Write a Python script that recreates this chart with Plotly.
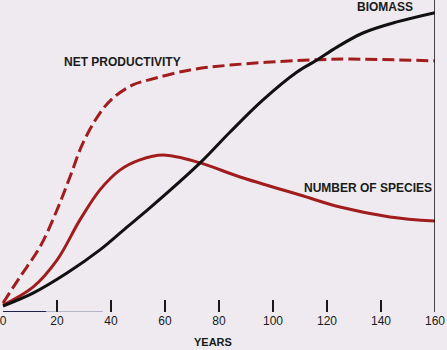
import plotly.graph_objects as go

# Years and values (arbitrary units, 0 = bottom axis)
biomass_years = [0, 11.1, 23.7, 35.9, 45.9, 54.4, 73.0, 84.1, 96.3, 108.9, 116.3, 123.7, 133.3, 145.9, 160]
biomass_vals = [2.0, 6.3, 13.0, 20.7, 28.3, 34.7, 49.7, 60.0, 70.7, 80.0, 84.0, 88.3, 93.0, 96.7, 99.8]

species_years = [0, 11.1, 20.0, 28.5, 35.9, 43.3, 50.7, 59.3, 73.0, 87.8, 110.0, 124.8, 143.3, 160]
species_vals = [2.3, 8.3, 17.3, 30.7, 40.7, 47.3, 50.7, 52.3, 49.7, 45.0, 39.0, 35.0, 31.7, 30.3]

netprod_years = [0, 6.3, 13.7, 20.0, 24.8, 29.6, 35.9, 40.7, 48.1, 53.7, 69.3, 84.1, 108.9, 127.4, 160]
netprod_vals = [3.0, 11.7, 21.7, 34.0, 45.0, 56.3, 66.3, 71.3, 75.7, 77.3, 80.7, 82.3, 83.8, 84.3, 83.7]

tick_vals = [0, 20, 40, 60, 80, 100, 120, 140, 160]
tick_text = ["0", "20", "40", "60", "80", "100", "120", "140", "160"]
tick_marks = [20, 40, 60, 80, 100, 120, 140]

RED = "#a11d1d"
BLACK = "#111111"
BG = "#eeeaef"
FONT = "Liberation Sans, Arial, sans-serif"

fig = go.Figure()
fig.add_trace(go.Scatter(x=netprod_years, y=netprod_vals, mode="lines",
                         line=dict(color=RED, width=3, dash="12px,5px", shape="spline", smoothing=1.0),
                         hoverinfo="skip", showlegend=False))
fig.add_trace(go.Scatter(x=species_years, y=species_vals, mode="lines",
                         line=dict(color=RED, width=3, shape="spline", smoothing=1.0),
                         hoverinfo="skip", showlegend=False))
fig.add_trace(go.Scatter(x=biomass_years, y=biomass_vals, mode="lines",
                         line=dict(color=BLACK, width=3, shape="spline", smoothing=1.0),
                         hoverinfo="skip", showlegend=False))
# invisible trace for the tick-mark overlay axis
fig.add_trace(go.Scatter(x=[tick_marks[0]], y=[0], xaxis="x2", mode="markers",
                         marker=dict(opacity=0), hoverinfo="skip", showlegend=False))

labels = [
    ("BIOMASS", 141.5, 101.7),
    ("NET PRODUCTIVITY", 44.1, 83.3),
    ("NUMBER OF SPECIES", 135.0, 41.3),
]
for txt, x, y in labels:
    fig.add_annotation(x=x, y=y, text="<b>" + txt + "</b>", showarrow=False,
                       font=dict(family=FONT, size=12, color="#1a1a1a"),
                       xanchor="center", yanchor="middle")

fig.add_annotation(x=213 / 435, y=-0.096, xref="paper", yref="paper", text="<b>YEARS</b>",
                   showarrow=False, font=dict(family=FONT, size=11, color="#1a1a1a"),
                   xanchor="center", yanchor="middle")

# right border line and bottom baseline fragments
fig.add_shape(type="line", xref="x", yref="paper", x0=160, x1=160, y0=0, y1=1,
              line=dict(color=BLACK, width=1.5))
fig.add_shape(type="line", xref="x", yref="y", x0=0, x1=16, y0=0, y1=0,
              line=dict(color="#1c2145", width=2))
fig.add_shape(type="line", xref="x", yref="y", x0=16, x1=37, y0=0, y1=0,
              line=dict(color="rgba(70,80,130,0.45)", width=1.5))

fig.update_layout(
    width=447, height=350,
    margin=dict(l=0, r=12, t=0, b=38),
    paper_bgcolor=BG, plot_bgcolor=BG,
    xaxis=dict(range=[-1.111, 160], tickvals=tick_vals, ticktext=tick_text,
               ticks="", showgrid=False, zeroline=False, showline=False,
               ticklabeloverflow="allow", automargin=False,
               tickfont=dict(family=FONT, size=12, color="#1a1a1a"), fixedrange=True),
    xaxis2=dict(overlaying="x", matches="x", side="bottom", tickvals=tick_marks,
                ticks="inside", ticklen=12, tickwidth=1.5, tickcolor="#1a1a1a",
                showticklabels=False, showgrid=False, zeroline=False, showline=False),
    yaxis=dict(range=[0, 104], showticklabels=False, ticks="", showgrid=False,
               zeroline=False, showline=False, fixedrange=True),
)

fig.write_html("out.html", config={"displayModeBar": False, "staticPlot": True},
               post_script="document.body.style.margin='0';document.body.style.background='%s';" % BG)
